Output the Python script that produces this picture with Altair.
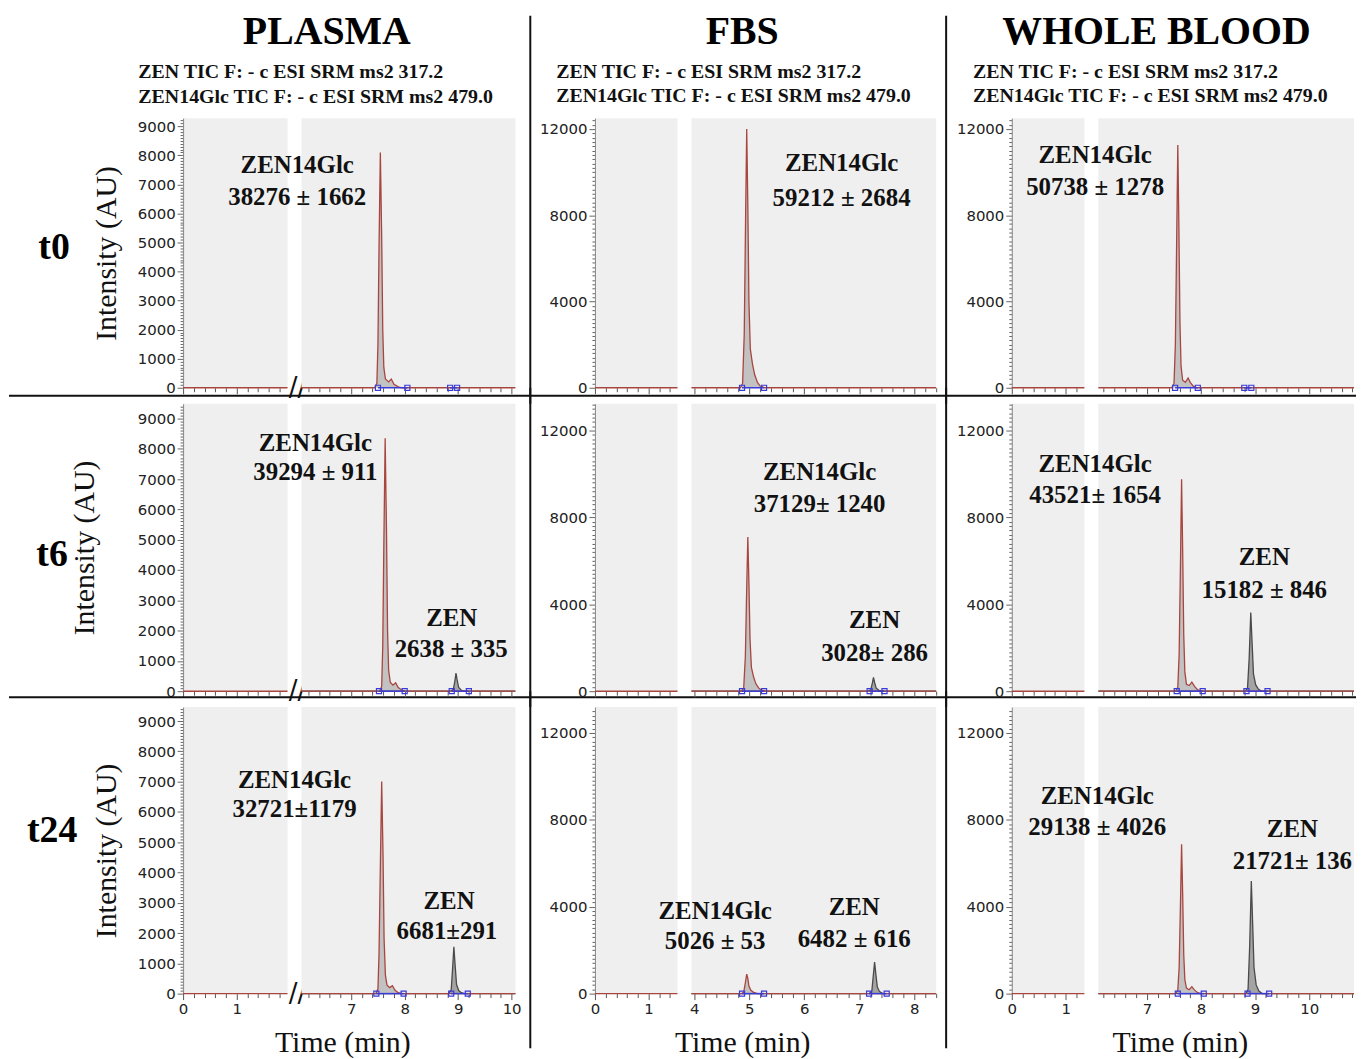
import altair as alt
import pandas as pd

# ---------------- text ----------------
COLUMN_TITLES = ["PLASMA", "FBS", "WHOLE BLOOD"]
COLUMN_KEYS = ["P", "F", "W"]
ROW_LABELS = ["t0", "t6", "t24"]
SUBTITLE_LINES = ["ZEN TIC  F: - c ESI SRM ms2 317.2",
                  "ZEN14Glc TIC  F: - c ESI SRM ms2 479.0"]
X_TITLE = "Time (min)"
Y_TITLE = "Intensity (AU)"

# ---------------- axes windows / ticks ----------------
LEFT_WINDOW = {"P": [0.0, 1.95], "F": [0.0, 1.54], "W": [0.0, 1.345]}
RIGHT_WINDOW = {"P": [6.07, 10.07], "F": [3.95, 8.40], "W": [6.10, 10.83]}
Y_MAX = {"P": [9280, 9490, 9460], "F": [12500, 13240, 13190], "W": [12500, 13240, 13190]}
Y_STEP = {"P": 100, "F": 200, "W": 200}
Y_MAJOR = {"P": 1000, "F": 4000, "W": 4000}
X_TICKS_LEFT = {
    "P": [0.0, 0.2, 0.4, 0.6, 0.8, 1.0, 1.2, 1.4, 1.6, 1.8],
    "F": [0.0, 0.2, 0.4, 0.6, 0.8, 1.0, 1.2, 1.4],
    "W": [0.0, 0.2, 0.4, 0.6, 0.8, 1.0, 1.2],
}
X_TICKS_RIGHT = {
    "P": [round(6.2 + 0.2 * i, 1) for i in range(20)],
    "F": [round(4.0 + 0.2 * i, 1) for i in range(23)],
    "W": [round(6.2 + 0.2 * i, 1) for i in range(24)],
}

# ---------------- chromatogram data ----------------
GLC_T = {
    "P0": [7.44, 7.48, 7.50, 7.52, 7.545, 7.57, 7.59, 7.61, 7.64, 7.70, 7.75, 7.80, 7.88, 7.95],
    "P6": [7.53, 7.57, 7.59, 7.61, 7.635, 7.66, 7.68, 7.70, 7.73, 7.78, 7.83, 7.88, 7.95, 8.02],
    "P24": [7.46, 7.50, 7.52, 7.545, 7.57, 7.595, 7.615, 7.64, 7.67, 7.72, 7.77, 7.82, 7.88, 7.95],
    "F0": [4.84, 4.88, 4.91, 4.935, 4.955, 4.975, 4.995, 5.02, 5.06, 5.10, 5.15, 5.20, 5.28],
    "F6": [4.86, 4.90, 4.93, 4.955, 4.975, 4.995, 5.015, 5.04, 5.08, 5.12, 5.17, 5.22, 5.30],
    "F24": [4.86, 4.90, 4.93, 4.955, 4.975, 4.995, 5.03, 5.08, 5.15],
    "W0": [7.46, 7.50, 7.525, 7.55, 7.57, 7.59, 7.61, 7.63, 7.66, 7.71, 7.76, 7.80, 7.86, 7.92],
    "W6": [7.53, 7.57, 7.595, 7.62, 7.64, 7.66, 7.68, 7.70, 7.73, 7.78, 7.83, 7.88, 7.94, 8.00],
    "W24": [7.53, 7.57, 7.595, 7.62, 7.64, 7.66, 7.68, 7.70, 7.73, 7.78, 7.83, 7.88, 7.94, 8.00],
}
GLC_I = {
    "P0": [0, 150, 1500, 4800, 8100, 5200, 2000, 700, 300, 200, 300, 120, 30, 0],
    "P6": [0, 150, 1500, 4800, 8350, 5300, 2000, 700, 300, 200, 280, 120, 30, 0],
    "P24": [0, 150, 1300, 4200, 7000, 4600, 1800, 600, 280, 200, 260, 110, 30, 0],
    "F0": [0, 200, 2500, 8000, 12000, 8500, 4000, 1800, 1100, 600, 250, 80, 0],
    "F6": [0, 150, 1600, 4800, 7100, 5000, 2400, 1100, 650, 350, 150, 50, 0],
    "F24": [0, 60, 500, 900, 700, 350, 150, 60, 0],
    "W0": [0, 200, 2000, 7000, 11260, 7500, 3000, 1000, 350, 250, 450, 250, 60, 0],
    "W6": [0, 180, 1700, 6000, 9760, 6500, 2600, 900, 320, 260, 420, 220, 60, 0],
    "W24": [0, 150, 1200, 4200, 6880, 4600, 1800, 650, 250, 180, 320, 160, 40, 0],
}
ZEN_T = {
    "P6": [8.86, 8.91, 8.94, 8.96, 8.98, 9.01, 9.06, 9.12],
    "P24": [8.82, 8.87, 8.895, 8.92, 8.945, 8.97, 9.01, 9.06, 9.12],
    "F6": [7.16, 7.21, 7.24, 7.26, 7.28, 7.31, 7.36, 7.42],
    "F24": [7.18, 7.23, 7.255, 7.28, 7.305, 7.33, 7.37, 7.43],
    "W6": [8.82, 8.86, 8.89, 8.92, 8.945, 8.97, 9.01, 9.06, 9.12],
    "W24": [8.83, 8.87, 8.90, 8.93, 8.955, 8.98, 9.02, 9.07, 9.13],
}
ZEN_I = {
    "P6": [0, 60, 350, 600, 380, 120, 30, 0],
    "P24": [0, 120, 800, 1550, 900, 300, 100, 30, 0],
    "F6": [0, 60, 380, 640, 400, 140, 40, 0],
    "F24": [0, 120, 800, 1450, 850, 300, 90, 0],
    "W6": [0, 150, 1500, 3620, 2200, 800, 300, 100, 0],
    "W24": [0, 200, 2200, 5180, 3200, 1200, 400, 120, 0],
}
INTEG_START = {
    "P0": [7.50, 8.85], "P6": [7.52, 8.88], "P24": [7.47, 8.87],
    "F0": [4.87], "F6": [4.87, 7.19], "F24": [4.87, 7.18],
    "W0": [7.52, 8.80], "W6": [7.55, 8.84], "W24": [7.57, 8.86],
}
INTEG_END = {
    "P0": [8.05, 8.98], "P6": [8.00, 9.20], "P24": [7.98, 9.18],
    "F0": [5.27], "F6": [5.27, 7.46], "F24": [5.27, 7.50],
    "W0": [7.94, 8.93], "W6": [8.03, 9.23], "W24": [8.05, 9.26],
}

# ---------------- peak annotations ----------------
ANN_PANEL = ["P0", "P0",
             "P6", "P6", "P6", "P6",
             "P24", "P24", "P24", "P24",
             "F0", "F0",
             "F6", "F6", "F6", "F6",
             "F24", "F24", "F24", "F24",
             "W0", "W0",
             "W6", "W6", "W6", "W6",
             "W24", "W24", "W24", "W24"]
ANN_T = [5.99, 5.99,
         6.33, 6.33, 8.88, 8.87,
         5.94, 5.94, 8.83, 8.79,
         6.68, 6.68,
         6.28, 6.28, 7.28, 7.28,
         4.38, 4.38, 6.91, 6.91,
         6.04, 6.04,
         6.04, 6.04, 9.17, 9.17,
         6.08, 6.08, 9.69, 9.69]
ANN_I = [7666, 6571,
         8180, 7227, 2398, 1380,
         7063, 6078, 3055, 2070,
         10429, 8814,
         10078, 8612, 3298, 1741,
         3802, 2428, 3985, 2519,
         10798, 9322,
         10444, 9024, 6184, 4672,
         9116, 7650, 7558, 6093]
ANN_TEXT = ["ZEN14Glc", "38276 ± 1662",
            "ZEN14Glc", "39294 ± 911", "ZEN", "2638 ± 335",
            "ZEN14Glc", "32721±1179", "ZEN", "6681±291",
            "ZEN14Glc", "59212 ± 2684",
            "ZEN14Glc", "37129± 1240", "ZEN", "3028± 286",
            "ZEN14Glc", "5026 ± 53", "ZEN", "6482 ± 616",
            "ZEN14Glc", "50738 ± 1278",
            "ZEN14Glc", "43521± 1654", "ZEN", "15182 ± 846",
            "ZEN14Glc", "29138 ± 4026", "ZEN", "21721± 136"]

# ---------------- styling / layout ----------------
SERIF = "Liberation Serif"
SANS = "DejaVu Sans"
RED = "#a8453e"
ZGRAY = "#4a4a4a"
FILL = "#c2c2c2"
ZFILL = "#a4a4a4"
BLUE = "#3a3ad6"
BG = "#efefef"
ROW_H = [271, 289, 288]
ROW_GAP = 16
SEG_W = {"P": (105, 215), "F": (83, 246), "W": (73, 257)}
SEP_W = [52, 48]
SEP_X = [1, -4]
SUB_DX = {"P": -45, "F": -39, "W": -39}
XTITLE_X = {"P": 41, "F": 51, "W": 82}
COL_DX = {"P": -82, "F": -72, "W": -70}
YTITLE_PAD = [16, 38, 16]
ROW_DY = [-5, 8, -19]
ROW_OFFSET = [82, 84, 65]

ONE = pd.DataFrame({"k": [0]})
INT_TEST = "abs(datum.value - round(datum.value)) < 0.01"


def x_axis(ticks, bottom, with_title, title_x):
    kw = dict(values=ticks, domain=False, grid=False, tickColor="#555", tickWidth=1,
              tickSize={"condition": {"test": INT_TEST, "value": 6}, "value": 4},
              labelOverlap=False, labelFlush=False)
    if bottom:
        kw.update(labelExpr=INT_TEST + " ? format(datum.value, 'd') : ''",
                  labelFont=SANS, labelFontSize=15, labelColor="#222", labelPadding=2)
        if with_title:
            kw.update(title=X_TITLE, titleFont=SERIF, titleFontSize=30, titleFontWeight="normal",
                      titleColor="#111", titleX=title_x, titleY=49, titleAlign="center",
                      titleBaseline="middle")
        else:
            kw["title"] = None
    else:
        kw.update(labels=False, title=None)
    return alt.Axis(**kw)


def y_axis(ck, r, ymax, with_title):
    major = Y_MAJOR[ck]
    vals = list(range(0, ymax + 1, Y_STEP[ck]))
    kw = dict(values=vals, format="d", domain=True, domainColor="#888", grid=False,
              tickColor="#666", tickWidth=1,
              tickSize={"condition": {"test": f"datum.value % {major} === 0", "value": 6}, "value": 3},
              labelExpr=f"datum.value % {major} === 0 ? datum.label : ''",
              labelOverlap=False, labelFont=SANS, labelFontSize=15, labelColor="#222",
              labelPadding=2)
    if with_title:
        kw.update(title=Y_TITLE, titleFont=SERIF, titleFontSize=30, titleFontWeight="normal",
                  titleColor="#111", titlePadding=YTITLE_PAD[r])
    else:
        kw["title"] = None
    return alt.Axis(**kw)


def trace(lo, hi, ts, vs):
    return pd.DataFrame({"t": [lo] + ts + [hi], "v": [0] + vs + [0]})


def segment(c, r, side):
    ck = COLUMN_KEYS[c]
    key = ck + ROW_LABELS[r][1:]
    lo, hi = (LEFT_WINDOW if side == "L" else RIGHT_WINDOW)[ck]
    ymax = Y_MAX[ck][r]
    bottom = r == 2
    ticks = (X_TICKS_LEFT if side == "L" else X_TICKS_RIGHT)[ck]
    xs = alt.Scale(domain=[lo, hi], nice=False, zero=False)
    ys = alt.Scale(domain=[0, ymax], nice=False)
    xax = x_axis(ticks, bottom, side == "R", XTITLE_X[ck])
    yax = y_axis(ck, r, ymax, c == 0) if side == "L" else None

    def X(f="t"):
        return alt.X(f + ":Q", scale=xs, axis=xax)

    def Y(f="v"):
        return alt.Y(f + ":Q", scale=ys, axis=yax)

    layers = []
    if side == "L":
        base = pd.DataFrame({"t": [lo, hi], "v": [0, 0]})
        layers.append(alt.Chart(base).mark_line(color=RED, strokeWidth=1.4).encode(x=X(), y=Y()))
        if ck == "P":
            brk = pd.DataFrame({"t": [hi], "v": [0], "s": ["//"]})
            layers.append(alt.Chart(brk).mark_text(font=SANS, fontSize=26, color="#111",
                                                   dx=10, baseline="middle", align="center")
                          .encode(x=X(), y=Y(), text="s:N"))
        if c == 0 and r < 2:
            # horizontal separator between rows
            layers.append(alt.Chart(ONE).mark_rule(color="#111", strokeWidth=2)
                          .encode(x=alt.value(-175), x2=alt.value(1179),
                                  y=alt.value(ROW_H[r] + [8, 6][r])))
    else:
        glc = trace(lo, hi, GLC_T[key], GLC_I[key])
        layers.append(alt.Chart(glc).mark_area(color=FILL).encode(x=X(), y=Y()))
        if key in ZEN_T:
            zen = trace(lo, hi, ZEN_T[key], ZEN_I[key])
            layers.append(alt.Chart(zen).mark_area(color=ZFILL).encode(x=X(), y=Y()))
            layers.append(alt.Chart(zen).mark_line(color=ZGRAY, strokeWidth=1.3).encode(x=X(), y=Y()))
        layers.append(alt.Chart(glc).mark_line(color=RED, strokeWidth=1.3).encode(x=X(), y=Y()))
        integ = pd.DataFrame({"s": INTEG_START[key], "e": INTEG_END[key],
                              "v": [0] * len(INTEG_START[key])})
        layers.append(alt.Chart(integ).mark_rule(color=BLUE, strokeWidth=1.5)
                      .encode(x=X("s"), x2=alt.X2("e:Q"), y=Y()))
        pts = pd.DataFrame({"t": INTEG_START[key] + INTEG_END[key],
                            "v": [0] * (2 * len(INTEG_START[key]))})
        layers.append(alt.Chart(pts).mark_point(shape="square", filled=False, color=BLUE,
                                                size=26, strokeWidth=1.2, opacity=1)
                      .encode(x=X(), y=Y()))
        ann = pd.DataFrame({"p": ANN_PANEL, "t": ANN_T, "v": ANN_I, "s": ANN_TEXT})
        ann = ann[ann["p"] == key]
        layers.append(alt.Chart(ann).mark_text(font=SERIF, fontSize=25, fontWeight="bold",
                                               color="#111", baseline="middle", align="center")
                      .encode(x=X(), y=Y(), text="s:N"))

    w = SEG_W[ck][0] if side == "L" else SEG_W[ck][1]
    props = dict(width=w, height=ROW_H[r], view=alt.ViewBackground(fill=BG, strokeWidth=0))
    if r == 0 and side == "L":
        props["title"] = alt.TitleParams(SUBTITLE_LINES, anchor="start", frame="group",
                                         dx=SUB_DX[ck], font=SERIF, fontSize=20,
                                         fontWeight="bold", color="#111", lineHeight=25,
                                         offset=7, align="left")
    if r == 0 and side == "R":
        props["title"] = alt.TitleParams(COLUMN_TITLES[c], anchor="middle", frame="group",
                                         dx=COL_DX[ck], font=SERIF, fontSize=40,
                                         fontWeight="bold", color="#000", offset=35,
                                         baseline="alphabetic")
    return alt.layer(*layers).properties(**props)


def label_cell(r):
    title = alt.TitleParams(ROW_LABELS[r], orient="left", angle=0, anchor="middle",
                            frame="group", align="center", baseline="middle", font=SERIF,
                            fontSize=38, fontWeight="bold", color="#000",
                            offset=ROW_OFFSET[r], dy=ROW_DY[r])
    return (alt.Chart(ONE).mark_point(opacity=0, size=4)
            .encode(x=alt.value(0), y=alt.value(0))
            .properties(width=1, height=ROW_H[r], title=title))


def sep_cell(r, which):
    top = [-103, -ROW_GAP, -ROW_GAP][r]
    bottom = [ROW_H[0] + ROW_GAP, ROW_H[1] + ROW_GAP, ROW_H[2] + 55][r]
    return (alt.Chart(ONE).mark_rule(color="#111", strokeWidth=2)
            .encode(x=alt.value(SEP_X[which]), y=alt.value(top), y2=alt.value(bottom))
            .properties(width=SEP_W[which], height=ROW_H[r]))


cells = []
for r in range(3):
    cells += [label_cell(r),
              segment(0, r, "L"), segment(0, r, "R"), sep_cell(r, 0),
              segment(1, r, "L"), segment(1, r, "R"), sep_cell(r, 1),
              segment(2, r, "L"), segment(2, r, "R")]

chart = alt.concat(*cells, columns=9, spacing={"row": ROW_GAP, "column": 14},
                   bounds="flush", align="each")
chart = chart.properties(padding={"left": 0, "top": 1, "right": 0, "bottom": 0},
                         background="white").configure_view(strokeWidth=0)

chart.save("out.html", embed_options={"renderer": "svg", "actions": False})
